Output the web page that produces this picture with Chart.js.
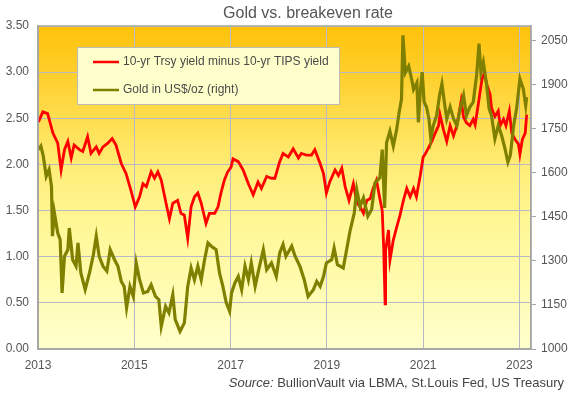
<!DOCTYPE html>
<html><head><meta charset="utf-8">
<script src="https://cdn.jsdelivr.net/npm/chart.js@4/dist/chart.umd.min.js"></script>
<style>html,body{margin:0;padding:0;background:#fff;}#wrap{width:576px;height:393px;position:relative;}</style>
</head><body><div id="wrap"><canvas id="c" width="576" height="393"></canvas></div>
<script>
const chartTitle = "Gold vs. breakeven rate";
const seriesNames = ["10-yr Trsy yield minus 10-yr TIPS yield", "Gold in US$/oz (right)"];
const sourcePrefix = "Source:";
const sourceText = " BullionVault via LBMA, St.Louis Fed, US Treasury";
const xTickYears = [2013, 2015, 2017, 2019, 2021, 2023];
const leftTicks = [0, 0.5, 1, 1.5, 2, 2.5, 3, 3.5];
const rightTicks = [1000, 1150, 1300, 1450, 1600, 1750, 1900, 2050];

const breakevenDates = [2013.01,2013.10,2013.20,2013.31,2013.41,2013.48,2013.55,2013.62,2013.69,2013.75,
2013.86,2013.93,2014.03,2014.10,2014.21,2014.27,2014.35,2014.45,2014.54,2014.62,
2014.73,2014.83,2014.93,2015.02,2015.11,2015.18,2015.25,2015.35,2015.42,2015.49,
2015.56,2015.66,2015.73,2015.80,2015.90,2015.97,2016.04,2016.11,2016.18,2016.25,
2016.32,2016.39,2016.49,2016.56,2016.67,2016.74,2016.80,2016.87,2016.94,2017.01,
2017.05,2017.16,2017.26,2017.37,2017.47,2017.57,2017.64,2017.75,2017.85,2017.92,
2018.02,2018.09,2018.20,2018.30,2018.41,2018.47,2018.58,2018.68,2018.75,2018.86,
2018.93,2018.99,2019.06,2019.17,2019.24,2019.31,2019.38,2019.46,2019.55,2019.62,
2019.69,2019.76,2019.83,2019.90,2019.96,2020.03,2020.10,2020.15,2020.18,2020.21,
2020.22,2020.28,2020.31,2020.38,2020.45,2020.52,2020.59,2020.66,2020.73,2020.80,
2020.86,2020.94,2021.00,2021.04,2021.11,2021.18,2021.25,2021.32,2021.35,2021.42,
2021.49,2021.56,2021.63,2021.70,2021.79,2021.84,2021.90,2021.97,2022.04,2022.08,
2022.15,2022.22,2022.27,2022.32,2022.39,2022.42,2022.49,2022.56,2022.60,2022.67,
2022.72,2022.79,2022.84,2022.91,2022.98,2023.01,2023.06,2023.12,2023.15];
const breakevenValues = [2.46,2.57,2.55,2.34,2.23,1.94,2.16,2.25,2.07,2.21,
2.16,2.14,2.30,2.12,2.19,2.12,2.19,2.23,2.28,2.21,
2.01,1.90,1.72,1.54,1.65,1.79,1.76,1.92,1.85,1.92,
1.83,1.58,1.41,1.58,1.61,1.47,1.45,1.20,1.54,1.65,
1.69,1.58,1.36,1.47,1.47,1.54,1.69,1.83,1.92,1.97,
2.06,2.03,1.94,1.79,1.67,1.81,1.74,1.87,1.85,1.85,
2.03,2.12,2.08,2.17,2.07,2.12,2.10,2.10,2.16,2.01,
1.90,1.69,1.81,1.94,1.88,1.96,1.76,1.61,1.79,1.59,
1.54,1.47,1.61,1.63,1.74,1.83,1.63,1.50,1.10,0.49,
1.07,1.29,0.96,1.18,1.32,1.45,1.61,1.74,1.65,1.74,
1.65,1.88,2.08,2.11,2.18,2.25,2.34,2.42,2.54,2.38,
2.25,2.42,2.31,2.42,2.69,2.51,2.45,2.42,2.49,2.43,
2.67,2.92,2.99,2.87,2.76,2.61,2.52,2.58,2.42,2.49,
2.42,2.58,2.34,2.27,2.22,2.11,2.27,2.34,2.54];

const goldDates = [2013.01,2013.06,2013.11,2013.17,2013.23,2013.28,2013.30,2013.34,2013.41,2013.46,
2013.50,2013.55,2013.62,2013.65,2013.72,2013.79,2013.83,2013.89,2013.98,2014.07,
2014.15,2014.21,2014.27,2014.35,2014.43,2014.50,2014.59,2014.66,2014.73,2014.79,
2014.84,2014.91,2014.98,2015.04,2015.11,2015.19,2015.28,2015.35,2015.44,2015.51,
2015.56,2015.65,2015.72,2015.80,2015.85,2015.95,2016.04,2016.11,2016.18,2016.25,
2016.32,2016.39,2016.46,2016.53,2016.60,2016.70,2016.77,2016.84,2016.91,2016.98,
2017.02,2017.09,2017.16,2017.23,2017.30,2017.37,2017.43,2017.51,2017.57,2017.68,
2017.75,2017.85,2017.95,2018.02,2018.09,2018.15,2018.27,2018.34,2018.44,2018.53,
2018.61,2018.72,2018.79,2018.86,2018.93,2018.99,2019.10,2019.15,2019.22,2019.34,
2019.41,2019.48,2019.57,2019.62,2019.69,2019.76,2019.85,2019.93,2020.00,2020.10,
2020.15,2020.20,2020.24,2020.31,2020.38,2020.45,2020.50,2020.55,2020.58,2020.63,
2020.70,2020.77,2020.80,2020.87,2020.90,2020.94,2020.98,2021.02,2021.07,2021.12,
2021.16,2021.21,2021.28,2021.34,2021.39,2021.44,2021.49,2021.56,2021.63,2021.70,
2021.77,2021.84,2021.90,2021.97,2022.04,2022.11,2022.16,2022.20,2022.25,2022.32,
2022.37,2022.42,2022.49,2022.56,2022.63,2022.70,2022.76,2022.81,2022.88,2022.94,
2023.01,2023.08,2023.13,2023.15];
const goldValues = [1679,1691,1657,1588,1611,1554,1384,1464,1395,1373,
1191,1316,1338,1412,1304,1282,1361,1259,1202,1259,
1321,1384,1316,1282,1265,1338,1304,1282,1230,1213,
1140,1213,1179,1293,1236,1191,1196,1219,1179,1168,
1077,1145,1123,1185,1100,1060,1089,1213,1276,1236,
1282,1236,1304,1361,1350,1338,1259,1213,1157,1128,
1191,1225,1247,1202,1282,1236,1293,1213,1259,1338,
1270,1293,1247,1327,1356,1316,1350,1316,1282,1236,
1179,1202,1230,1213,1247,1293,1304,1344,1287,1276,
1338,1401,1464,1543,1486,1515,1452,1475,1566,1583,
1679,1480,1702,1742,1691,1748,1805,1850,2068,1941,
1963,1912,1884,1907,1772,1875,1943,1841,1824,1784,
1716,1761,1795,1863,1903,1841,1784,1824,1784,1761,
1818,1863,1795,1824,1841,1932,2040,1943,1977,1898,
1818,1795,1716,1761,1727,1682,1636,1659,1761,1818,
1920,1886,1829,1858];

const FONT = "'Liberation Sans', Arial, sans-serif";
const TXT = '#555555';
const RED = '#FF0000';
const OLIVE = '#808000';

const decor = {
  id: 'decor',
  beforeDraw(chart) {
    const ctx = chart.ctx, a = chart.chartArea;
    ctx.save();
    ctx.fillStyle = '#ffffff';
    ctx.fillRect(0, 0, chart.width, chart.height);
    const g = ctx.createLinearGradient(0, a.top, 0, a.bottom);
    g.addColorStop(0, '#FFC20A');
    g.addColorStop(0.15, '#FFCF2C');
    g.addColorStop(0.3, '#FFDF52');
    g.addColorStop(0.45, '#FFEE7A');
    g.addColorStop(0.6, '#FFF794');
    g.addColorStop(0.8, '#FFFBB0');
    g.addColorStop(1, '#FFFFCC');
    ctx.fillStyle = g;
    ctx.fillRect(a.left, a.top, a.right - a.left, a.bottom - a.top);
    ctx.restore();
  },
  afterDraw(chart) {
    const ctx = chart.ctx, a = chart.chartArea;
    ctx.save();
    ctx.strokeStyle = '#A6A6A6';
    ctx.lineWidth = 1.5;
    ctx.strokeRect(a.left, a.top, a.right - a.left, a.bottom - a.top);
    ctx.fillStyle = TXT;
    ctx.font = '16px ' + FONT;
    ctx.textAlign = 'center';
    ctx.textBaseline = 'middle';
    ctx.fillText(chartTitle, 308, 14);
    const bx = 77, by = 47, bw = 262, bh = 57;
    ctx.fillStyle = '#FFFFCC';
    ctx.fillRect(bx, by, bw, bh);
    ctx.strokeStyle = '#BBBBBB';
    ctx.lineWidth = 1;
    ctx.strokeRect(bx + 0.5, by + 0.5, bw, bh);
    const rows = [[seriesNames[0], RED, 62], [seriesNames[1], OLIVE, 90]];
    ctx.font = '12px ' + FONT;
    ctx.textAlign = 'left';
    rows.forEach(r => {
      ctx.strokeStyle = r[1];
      ctx.lineWidth = 2.5;
      ctx.beginPath();
      ctx.moveTo(93, r[2]); ctx.lineTo(119, r[2]);
      ctx.stroke();
      ctx.fillStyle = '#4A4A4A';
      ctx.fillText(r[0], 123, r[2]);
    });
    ctx.font = '13px ' + FONT;
    const w2 = ctx.measureText(sourceText).width;
    ctx.font = 'italic 13px ' + FONT;
    const w1 = ctx.measureText(sourcePrefix).width;
    const right = 564, sy = 383;
    ctx.fillStyle = '#444444';
    ctx.textAlign = 'left';
    ctx.fillText(sourcePrefix, right - w2 - w1, sy);
    ctx.font = '13px ' + FONT;
    ctx.fillText(sourceText, right - w2, sy);
    ctx.restore();
  }
};

const gridColor = '#B8B8C6';
new Chart(document.getElementById('c'), {
  type: 'line',
  data: {
    datasets: [
      {
        label: seriesNames[0],
        data: breakevenDates.map((d, i) => ({x: d, y: breakevenValues[i]})),
        borderColor: RED, backgroundColor: RED, borderWidth: 2.8,
        pointRadius: 0, tension: 0, yAxisID: 'y', order: 1
      },
      {
        label: seriesNames[1],
        data: goldDates.map((d, i) => ({x: d, y: goldValues[i]})),
        borderColor: OLIVE, backgroundColor: OLIVE, borderWidth: 3.2,
        pointRadius: 0, tension: 0, yAxisID: 'y1', order: 0
      }
    ]
  },
  options: {
    responsive: false, animation: false, devicePixelRatio: 1,
    layout: {padding: {top: 26, left: 0, right: 0, bottom: 0}},
    plugins: {legend: {display: false}, title: {display: false}, tooltip: {enabled: false}},
    scales: {
      x: {
        type: 'linear', min: 2013, max: 2023.24,
        afterBuildTicks: s => { s.ticks = xTickYears.map(v => ({value: v})); },
        afterFit: s => { s.height = 44; },
        ticks: {callback: v => String(v), color: TXT, font: {family: FONT, size: 12}, padding: 9, maxRotation: 0, autoSkip: false},
        grid: {color: gridColor, lineWidth: 1, drawTicks: false},
        border: {color: '#A6A6A6', width: 1.5}
      },
      y: {
        position: 'left', min: 0, max: 3.5,
        afterBuildTicks: s => { s.ticks = leftTicks.map(v => ({value: v})); },
        afterFit: s => { s.width = 38; },
        ticks: {callback: v => Number(v).toFixed(2), color: TXT, font: {family: FONT, size: 12}, padding: 9},
        grid: {color: gridColor, lineWidth: 1, drawTicks: false},
        border: {color: '#A6A6A6', width: 1.5}
      },
      y1: {
        position: 'right', min: 1000, max: 2100,
        afterBuildTicks: s => { s.ticks = rightTicks.map(v => ({value: v})); },
        afterFit: s => { s.width = 45; },
        ticks: {callback: v => String(v), color: TXT, font: {family: FONT, size: 12}, padding: 5},
        grid: {drawOnChartArea: false, drawTicks: true, tickLength: 5, color: '#A6A6A6'},
        border: {color: '#A6A6A6', width: 1.5}
      }
    }
  },
  plugins: [decor]
});
</script></body></html>
